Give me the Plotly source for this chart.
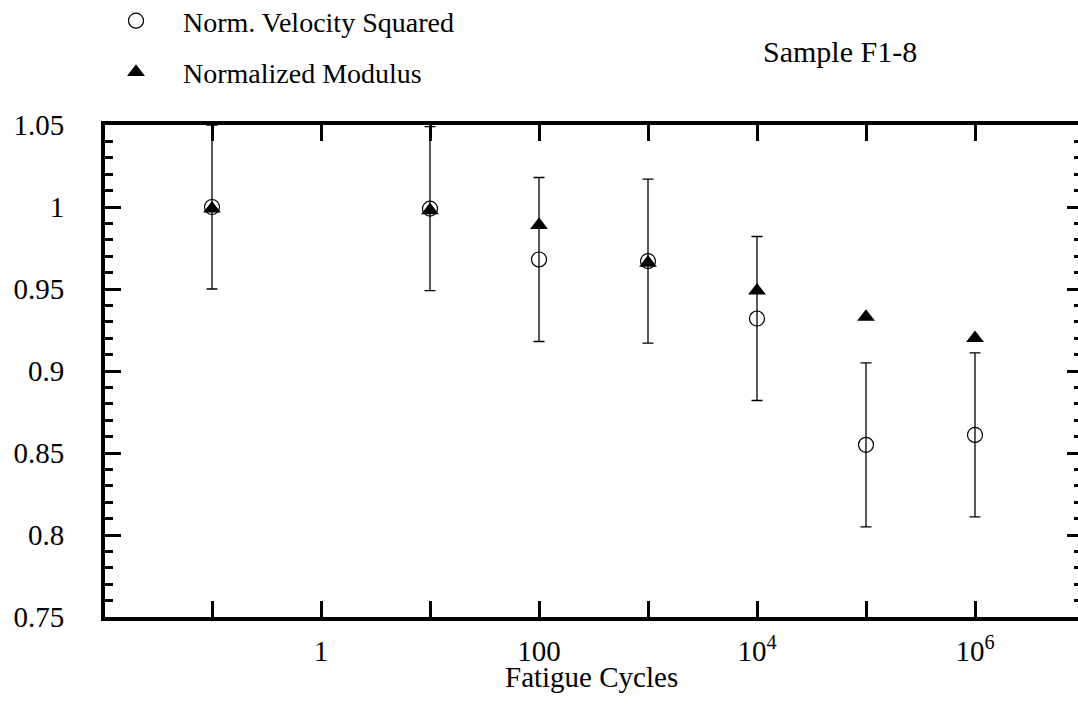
import plotly.graph_objects as go

# ---- data ----
cycles = [0.1, 10, 100, 1000, 1e4, 1e5, 1e6]
norm_vel_sq = [1.000, 0.999, 0.968, 0.967, 0.932, 0.855, 0.861]
norm_vel_sq_err = [0.05, 0.05, 0.05, 0.05, 0.05, 0.05, 0.05]
norm_modulus = [0.999, 0.998, 0.989, 0.966, 0.949, 0.933, 0.920]

x_tickvals = [0.1, 1, 10, 100, 1000, 1e4, 1e5, 1e6]
x_ticktext = ["", "1", "", "100", "", "10<sup>4</sup>", "", "10<sup>6</sup>"]
y_tickvals = [0.75, 0.8, 0.85, 0.9, 0.95, 1.0, 1.05]
y_ticktext = ["0.75", "0.8", "0.85", "0.9", "0.95", "1", "1.05"]

FONT = "Liberation Serif, Times New Roman, serif"

W, H = 1078, 704
L, T = 105, 125
PH = 492            # plot height
B = H - T - PH
PW = W - L          # plot width
DEC = 109.0         # pixels per decade
X0 = -2 + 2 / DEC   # log10 at the left plot edge

fig = go.Figure()
fig.add_trace(go.Scatter(
    x=cycles, y=norm_vel_sq, mode="markers", name="Norm. Velocity Squared",
    legendgroup="a",
    marker=dict(symbol="circle-open", size=15, color="black", line=dict(width=1.2, color="black")),
    error_y=dict(type="data", array=norm_vel_sq_err, visible=True, color="black",
                 thickness=1.3, width=5.5),
))
fig.add_trace(go.Scatter(
    x=cycles, y=norm_modulus, mode="markers", name="Normalized Modulus",
    legendgroup="b",
    marker=dict(symbol="triangle-up", size=15.5, color="black"),
))
# helper trace so the right-hand tick axis is drawn
fig.add_trace(go.Scatter(x=[], y=[], yaxis="y2", showlegend=False, hoverinfo="skip"))

fig.update_layout(
    width=W, height=H,
    margin=dict(l=L, r=0, t=T, b=B, autoexpand=False),
    paper_bgcolor="white", plot_bgcolor="white",
    font=dict(family=FONT, size=29, color="black"),
    showlegend=True,
    legend=dict(
        xref="container", yref="paper",
        x=89 / W, y=1 + (T + 4) / PH, xanchor="left", yanchor="top",
        font=dict(family=FONT, size=28, color="black"),
        bgcolor="rgba(0,0,0,0)", borderwidth=0,
        itemwidth=84, tracegroupgap=12, traceorder="grouped",
    ),
    xaxis=dict(
        type="log", range=[X0, X0 + PW / DEC],
        tickmode="array", tickvals=x_tickvals, ticktext=x_ticktext,
        ticks="inside", ticklen=16, tickwidth=3, tickcolor="black",
        showline=True, linewidth=4, linecolor="black", mirror="ticks",
        showgrid=False, zeroline=False, automargin=False,
        tickfont=dict(family=FONT, size=29, color="black"),
        ticklabelstandoff=5,
    ),
    yaxis=dict(
        range=[0.75, 1.05],
        tickmode="array", tickvals=y_tickvals, ticktext=y_ticktext,
        ticks="inside", ticklen=16, tickwidth=3, tickcolor="black",
        minor=dict(tickmode="linear", tick0=0.75, dtick=0.01, ticks="inside",
                   ticklen=8, tickwidth=3, tickcolor="black", showgrid=False),
        showline=True, linewidth=4, linecolor="black", mirror=False,
        showgrid=False, zeroline=False, automargin=False,
        tickfont=dict(family=FONT, size=29, color="black"),
        ticklabelstandoff=31,
    ),
    yaxis2=dict(
        range=[0.75, 1.05], overlaying="y", side="right", anchor="x",
        tickmode="array", tickvals=y_tickvals, showticklabels=False,
        ticks="inside", ticklen=11, tickwidth=3, tickcolor="black",
        minor=dict(tickmode="linear", tick0=0.75, dtick=0.01, ticks="inside",
                   ticklen=4, tickwidth=3, tickcolor="black", showgrid=False),
        showline=False, showgrid=False, zeroline=False, automargin=False,
    ),
    annotations=[
        dict(
            text="Sample F1-8", xref="paper", yref="paper",
            x=(761 - L) / PW, y=1 + (T - 52) / PH,
            xanchor="left", yanchor="middle", showarrow=False,
            font=dict(family=FONT, size=30, color="black"),
        ),
        dict(
            text="Fatigue Cycles", xref="paper", yref="paper",
            x=0.5, y=-(677 - (T + PH)) / PH,
            xanchor="center", yanchor="middle", showarrow=False,
            font=dict(family=FONT, size=29, color="black"),
        ),
    ],
)

# the page body's default 8px margin would clip the figure; remove it
fig.write_html("out.html", config={"displayModeBar": False},
               post_script="document.body.style.margin='0';")
